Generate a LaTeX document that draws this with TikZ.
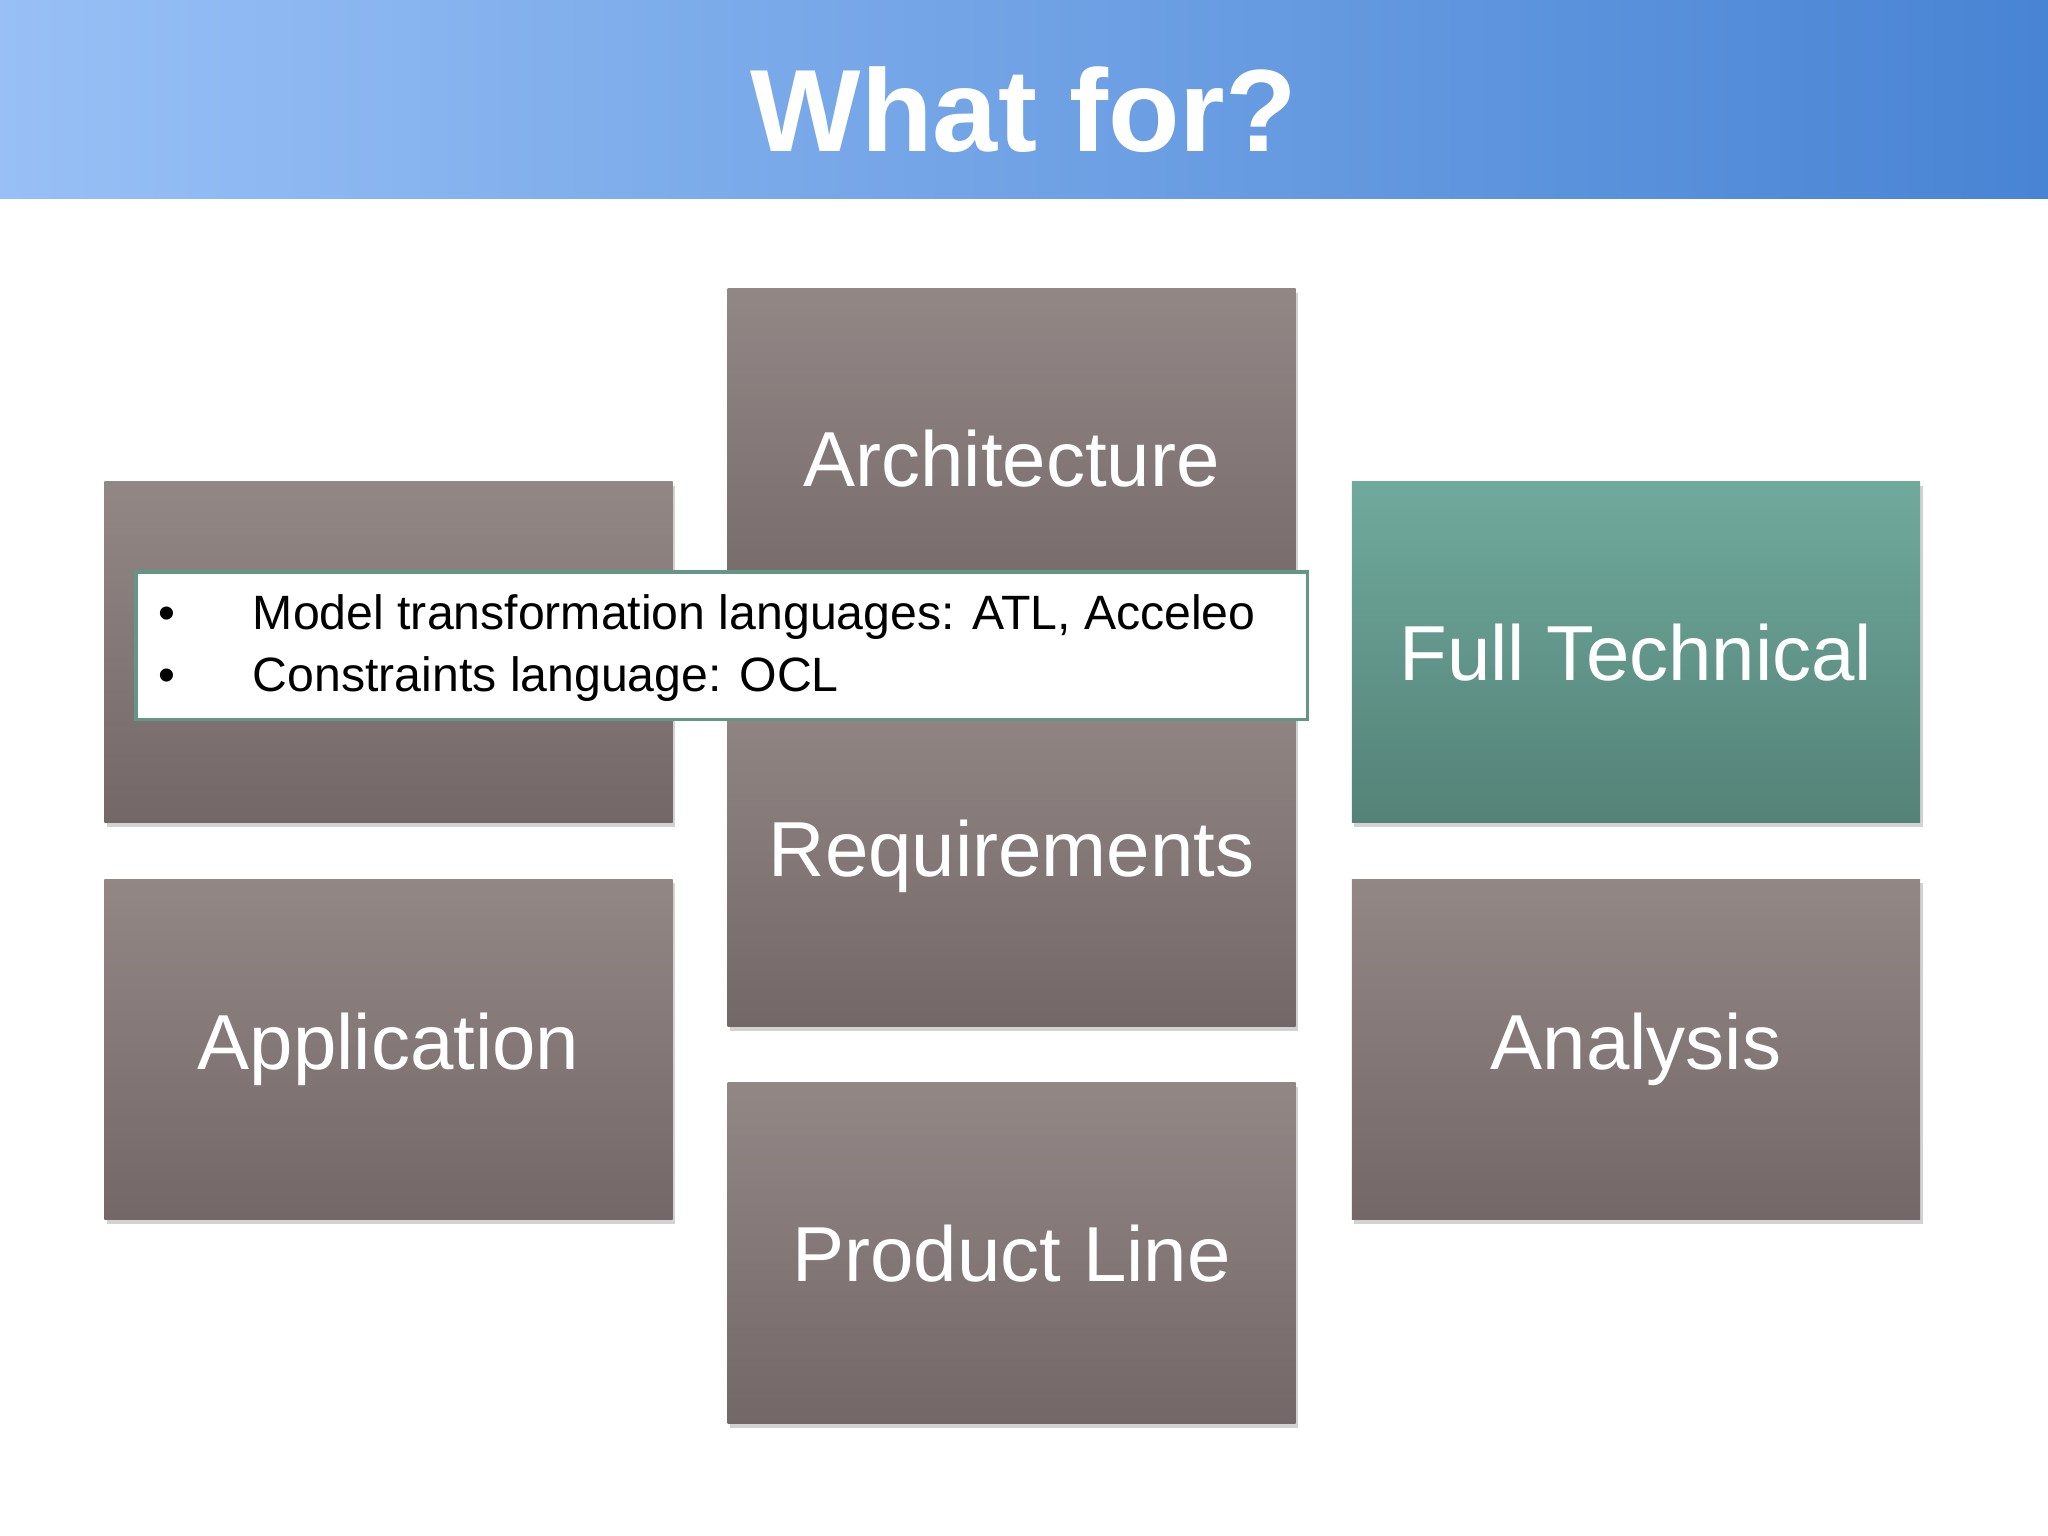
\documentclass[tikz,border=0pt]{standalone}
\usepackage{fontspec}
\setmainfont{Liberation Sans}
\usetikzlibrary{shadows}
\definecolor{gtop}{RGB}{147,135,134}
\definecolor{gbot}{RGB}{115,103,104}
\definecolor{ttop}{RGB}{112,170,157}
\definecolor{tbot}{RGB}{84,130,119}
\definecolor{bl}{RGB}{152,192,246}
\definecolor{br}{RGB}{72,132,212}
\definecolor{cb}{RGB}{100,150,135}
\tikzset{
  card/.style={minimum width=435*0.02cm, minimum height=261*0.02cm, top color=gtop, bottom color=gbot, draw=none, text=white, font=\fontsize{34}{40}\selectfont, drop shadow={shadow xshift=0.04cm, shadow yshift=-0.06cm, opacity=0.35}},
  tcard/.style={card, top color=ttop, bottom color=tbot}
}
\begin{document}
\begin{tikzpicture}[x=0.02cm,y=-0.02cm]
\useasboundingbox (0,0) rectangle (1568,1176);
\fill[white] (0,0) rectangle (1568,1176);
\shade[left color=bl, right color=br] (0,0) rectangle (1568,152);
\node[text=white, font=\bfseries\fontsize{51}{60}\selectfont] (title) at (784,84) {What for?};
\node[card] (arch) at (774.5,351.5) {};
\node[text=white, font=\fontsize{34}{40}\selectfont] (archl) at (774.5,351) {Architecture};
\node[card] (tl) at (297.5,499.5) {};
\node[tcard] (ft) at (1252.5,499.5) {Full Technical};
\node[card] (req) at (774.5,655.5) {Requirements};
\node[card] (app) at (297.5,803.5) {Application};
\node[card] (ana) at (1252.5,803.5) {Analysis};
\node[card] (pl) at (774.5,959.5) {Product Line};
\node[draw=cb, line width=1.5pt, fill=white, minimum width=897*0.02cm, minimum height=113*0.02cm] (call) at (552.5,494.5) {};
\node[anchor=west, font=\fontsize{21}{27}\selectfont, align=left] (ct) at (115,496) {%
\makebox[1.45cm][l]{\textbullet}Model transformation languages: ATL, Acceleo\\
\makebox[1.45cm][l]{\textbullet}Constraints language: OCL};
\end{tikzpicture}
\end{document}
